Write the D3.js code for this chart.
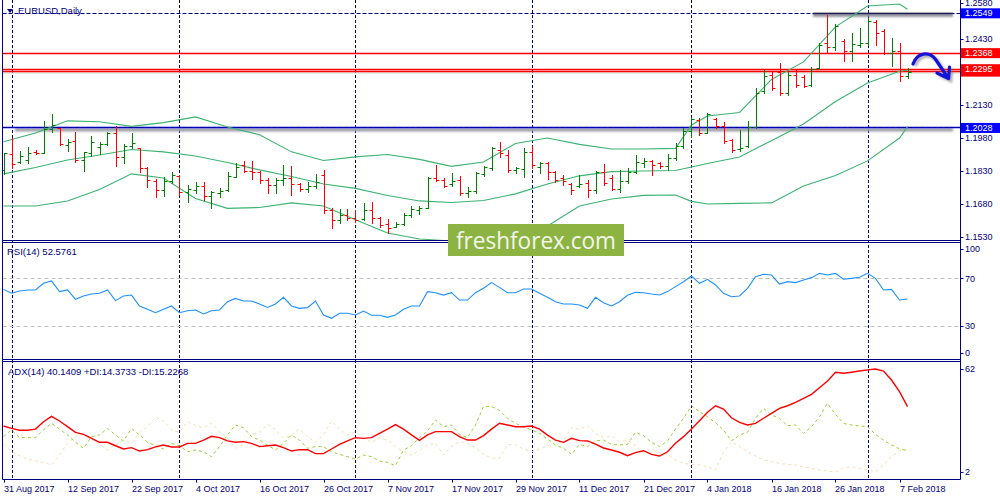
<!DOCTYPE html>
<html>
<head>
<meta charset="utf-8">
<script src="https://cdn.jsdelivr.net/npm/d3@7/dist/d3.min.js"></script>
<style>
body{margin:0;background:#fff;}
svg{display:block;font-family:"Liberation Sans",Arial,sans-serif;}
</style>
</head>
<body>
<div id="chart"></div>
<script>
// EURUSD daily bars, 31 Aug 2017 .. 8 Feb 2018 (index 0..113)
var open = [
1.1835,1.1908,1.1871,1.1880,1.1917,1.1912,1.2022,1.2024,1.1948,1.1966,
1.1880,1.1912,1.1939,1.1953,1.2003,1.1894,1.1944,1.1933,1.1844,1.1784,
1.1744,1.1784,1.1808,1.1735,1.1744,1.1762,1.1716,1.1730,1.1744,1.1803,
1.1858,1.1830,1.1826,1.1789,1.1767,1.1789,1.1798,1.1771,1.1749,1.1762,
1.1812,1.1653,1.1608,1.1630,1.1617,1.1612,1.1653,1.1617,1.1589,1.1576,
1.1589,1.1630,1.1653,1.1662,1.1798,1.1789,1.1771,1.1789,1.1730,1.1739,
1.1817,1.1844,1.1926,1.1903,1.1835,1.1839,1.1917,1.1848,1.1867,1.1826,
1.1798,1.1771,1.1762,1.1776,1.1744,1.1826,1.1798,1.1749,1.1784,1.1826,
1.1867,1.1876,1.1867,1.1853,1.1889,1.1944,1.2012,1.2062,1.2003,1.2067,
1.2035,1.1971,1.1930,1.1944,1.2030,1.2194,1.2267,1.2280,1.2185,1.2267,
1.2258,1.2221,1.2298,1.2412,1.2394,1.2421,1.2376,1.2403,1.2412,1.2508,
1.2467,1.2367,1.2376,1.2262];
var high = [
1.1914,1.1979,1.1921,1.1938,1.1926,1.2059,1.2090,1.2025,1.1974,1.2009,
1.1918,1.1989,1.1963,1.2007,1.2035,1.1951,1.2001,1.1936,1.1847,1.1792,
1.1801,1.1827,1.1812,1.1767,1.1781,1.1781,1.1741,1.1752,1.1827,1.1868,
1.1877,1.1876,1.1829,1.1797,1.1800,1.1856,1.1853,1.1774,1.1781,1.1817,
1.1835,1.1662,1.1657,1.1656,1.1653,1.1683,1.1691,1.1620,1.1614,1.1600,
1.1638,1.1672,1.1671,1.1802,1.1858,1.1798,1.1822,1.1808,1.1756,1.1827,
1.1853,1.1941,1.1963,1.1926,1.1850,1.1933,1.1944,1.1873,1.1873,1.1829,
1.1812,1.1774,1.1811,1.1789,1.1830,1.1862,1.1812,1.1835,1.1842,1.1903,
1.1888,1.1878,1.1873,1.1908,1.1956,1.2024,1.2077,1.2070,1.2093,1.2070,
1.2054,1.1974,1.2017,1.2058,1.2206,1.2289,1.2282,1.2320,1.2282,1.2289,
1.2267,1.2304,1.2413,1.2539,1.2498,1.2429,1.2456,1.2479,1.2524,1.2517,
1.2474,1.2433,1.2411,1.2297];
var low = [
1.1817,1.1845,1.1868,1.1865,1.1906,1.1911,1.2009,1.1948,1.1923,1.1870,
1.1832,1.1899,1.1908,1.1948,1.1853,1.1865,1.1933,1.1827,1.1756,1.1713,
1.1718,1.1777,1.1721,1.1690,1.1731,1.1698,1.1661,1.1713,1.1741,1.1802,
1.1827,1.1792,1.1777,1.1731,1.1729,1.1767,1.1721,1.1741,1.1736,1.1752,
1.1638,1.1570,1.1593,1.1608,1.1600,1.1608,1.1595,1.1577,1.1550,1.1574,
1.1585,1.1623,1.1633,1.1661,1.1783,1.1756,1.1762,1.1721,1.1711,1.1731,
1.1809,1.1835,1.1895,1.1824,1.1820,1.1804,1.1842,1.1822,1.1792,1.1779,
1.1767,1.1726,1.1756,1.1713,1.1731,1.1767,1.1744,1.1736,1.1777,1.1820,
1.1850,1.1812,1.1842,1.1835,1.1880,1.1933,1.1986,1.1994,1.2002,1.2024,
1.1956,1.1918,1.1923,1.1940,1.2027,1.2186,1.2198,1.2176,1.2176,1.2213,
1.2211,1.2217,1.2293,1.2365,1.2380,1.2332,1.2332,1.2395,1.2403,1.2403,
1.2362,1.2308,1.2241,1.2252];
var close = [
1.1911,1.1862,1.1898,1.1914,1.1912,1.2022,1.2039,1.1953,1.1963,1.1880,
1.1917,1.1962,1.1953,1.2003,1.1894,1.1944,1.1958,1.1844,1.1789,1.1744,
1.1784,1.1812,1.1735,1.1749,1.1762,1.1716,1.1735,1.1739,1.1808,1.1848,
1.1830,1.1826,1.1789,1.1767,1.1789,1.1798,1.1771,1.1749,1.1762,1.1780,
1.1653,1.1608,1.1630,1.1617,1.1608,1.1653,1.1617,1.1585,1.1571,1.1589,
1.1630,1.1658,1.1662,1.1798,1.1789,1.1762,1.1784,1.1730,1.1739,1.1821,
1.1848,1.1935,1.1912,1.1835,1.1844,1.1917,1.1858,1.1867,1.1826,1.1789,
1.1784,1.1744,1.1771,1.1744,1.1826,1.1776,1.1749,1.1784,1.1826,1.1871,
1.1876,1.1858,1.1853,1.1889,1.1944,1.2012,1.2067,1.2003,1.2090,1.2035,
1.1966,1.1926,1.1935,1.2030,1.2185,1.2262,1.2208,1.2185,1.2267,1.2221,
1.2217,1.2294,1.2405,1.2394,1.2489,1.2376,1.2408,1.2412,1.2512,1.2458,
1.2367,1.2376,1.2262,1.2280];

// Bollinger bands at these bar indexes
var bandIdx = [0,4,8,12,16,20,24,28,32,36,40,44,48,52,56,60,64,68,72,76,80,84,86,88,92,96,100,104,108,112,113];
var bandUp = [1.1963,1.2003,1.2058,1.2054,1.2033,1.2050,1.2076,1.2030,1.1995,1.1917,1.1878,1.1894,1.1905,1.1883,1.1851,1.1871,1.1955,1.1980,1.1951,1.1930,1.1930,1.1933,1.2039,1.2080,1.2096,1.2246,1.2326,1.2485,1.2580,1.2589,1.2565];
var bandMid = [1.1817,1.1846,1.1880,1.1903,1.1928,1.1917,1.1898,1.1869,1.1835,1.1805,1.1771,1.1751,1.1719,1.1694,1.1687,1.1696,1.1726,1.1771,1.1808,1.1827,1.1830,1.1832,1.1848,1.1864,1.1894,1.1968,1.2044,1.2146,1.2230,1.2283,1.2289];
var bandLow = [1.1671,1.1671,1.1694,1.1746,1.1817,1.1798,1.1705,1.1660,1.1664,1.1685,1.1671,1.1608,1.1548,1.1521,1.1512,1.1512,1.1535,1.1580,1.1671,1.1703,1.1719,1.1721,1.1692,1.1680,1.1683,1.1685,1.1762,1.1810,1.1876,1.1980,1.2032];

var rsi = [
60.7,57.4,59.3,60.2,60.2,65.8,67.8,58.8,60.2,52.3,
55.1,56.8,57.4,60.2,51.2,55.1,55.9,46.7,43.9,41.0,
43.9,46.7,41.0,42.7,43.3,39.9,42.7,43.3,50.3,53.1,
50.9,50.9,48.4,45.5,48.4,54.0,46.7,44.7,45.3,50.9,
39.1,36.3,40.5,40.5,39.1,42.4,38.8,38.8,37.1,39.1,
43.9,46.7,46.7,58.8,57.9,55.9,57.9,51.7,51.7,57.9,
61.6,66.4,62.4,57.9,57.9,61.0,61.0,57.4,54.0,50.3,
48.4,48.4,47.5,44.7,54.0,49.5,46.7,50.3,55.7,58.2,
57.9,56.8,55.9,58.8,63.0,67.2,72.0,65.8,69.2,64.4,
57.4,54.5,55.1,61.6,71.4,73.4,72.8,65.2,67.2,66.4,
68.6,70.6,74.2,72.8,74.2,69.2,70.0,70.9,74.2,70.0,
60.2,60.7,51.7,52.6];

var adx = [
28.8,27.4,26.3,26.3,27.0,31.3,34.4,31.7,28.4,25.1,
23.9,21.6,19.3,19.3,17.3,15.4,16.2,14.2,15.0,16.6,
17.7,16.6,16.6,18.7,18.7,20.6,22.8,22.0,20.1,19.3,
19.7,18.7,16.8,17.3,17.7,16.2,14.2,15.0,15.0,12.7,
12.7,15.4,18.1,20.1,22.0,21.6,22.0,24.5,27.0,29.6,
27.0,23.6,20.4,23.6,25.5,25.5,25.5,22.6,20.6,20.6,
23.2,27.0,30.4,29.4,28.4,28.4,28.8,27.0,23.5,20.6,
19.3,21.6,20.3,20.1,18.3,16.0,14.8,13.5,11.5,13.3,
14.4,12.3,11.3,13.8,18.7,22.6,27.0,31.9,36.8,40.6,
38.7,33.6,30.9,29.4,30.3,33.3,36.2,39.1,40.6,42.6,
44.9,47.2,51.1,55.0,60.1,59.5,60.1,60.8,61.5,62.0,
60.8,55.6,48.8,40.1];
var plusDI = [
22.6,26.5,22.0,22.0,22.0,26.5,30.4,27.0,23.6,19.3,
15.8,22.6,23.6,27.4,23.6,20.1,27.4,23.6,19.3,17.3,
15.4,18.7,17.3,13.8,14.8,13.8,10.9,16.8,23.6,29.4,
27.8,22.6,20.6,17.7,14.8,18.7,23.6,20.6,15.8,16.8,
16.8,13.8,12.3,10.9,9.6,11.9,10.9,8.4,7.6,5.7,
14.8,17.3,22.0,25.9,32.3,28.4,29.4,23.9,22.0,29.4,
40.1,40.1,37.9,33.3,30.3,28.4,26.5,24.5,21.2,17.7,
15.8,12.3,18.1,16.8,20.1,20.6,18.1,17.7,18.1,25.1,
23.2,19.3,16.8,20.1,27.0,33.3,40.6,37.1,34.2,30.7,
26.5,20.1,23.6,25.1,33.3,39.1,35.2,33.3,29.0,29.4,
24.5,28.4,34.2,42.0,35.6,30.3,29.4,28.8,28.4,23.9,
20.6,17.7,15.5,14.4];
var minusDI = [
18.1,13.8,11.5,9.6,8.4,7.6,6.1,11.9,18.7,22.6,
23.9,21.6,18.1,14.8,17.7,20.6,18.7,25.1,28.4,34.0,
31.7,26.5,25.1,31.3,29.0,27.8,30.4,25.5,21.6,15.8,
18.1,23.6,25.1,29.8,26.5,21.6,23.6,27.0,22.6,19.3,
23.6,31.7,27.0,23.6,25.5,22.0,19.3,21.6,20.6,16.8,
13.8,11.9,14.8,17.7,18.7,11.9,16.8,19.7,18.7,16.2,
12.3,10.0,10.0,18.1,17.7,15.4,13.8,15.4,17.3,18.1,
20.6,27.8,26.9,29.0,24.5,22.0,23.0,19.7,20.6,17.3,
12.9,15.4,13.4,12.3,9.0,7.0,6.4,6.1,5.1,3.2,
13.8,19.7,16.8,13.8,11.3,9.0,8.0,7.0,6.4,6.1,
5.1,4.1,3.2,2.5,2.0,4.5,5.1,4.1,3.2,2.2,
6.1,10.9,14.4,15.2];

var tickIdx = [0,8,16,24,32,40,48,56,64,72,80,88,96,104,112];
var tickLabels = ["31 Aug 2017","12 Sep 2017","22 Sep 2017","4 Oct 2017","16 Oct 2017","26 Oct 2017",
  "7 Nov 2017","17 Nov 2017","29 Nov 2017","11 Dec 2017","21 Dec 2017","4 Jan 2018",
  "16 Jan 2018","26 Jan 2018","7 Feb 2018"];
var monthIdx = [1,22,44,66,86,108];          // first bar of each month
var priceTicks = [1.2580,1.2430,1.2130,1.1980,1.1830,1.1680,1.1530];
var rsiTicks = [100,70,30,0];
var rsiLevels = [70,30];
var adxTicks = [62,2];
var blueLevels = [1.2549,1.2028];
var redLevels = [1.2368,1.2284,1.2295];

var navy = "#000080";
var W = 1000, H = 500;
var L = 2.5, R = 960.5;
var mainP = {top:0, bottom:240.5},
    rsiP = {top:242.5, bottom:359.5},
    adxP = {top:361.5, bottom:479.5};

var x = d3.scaleLinear().domain([0,113]).range([3.5,907.5]);
var y = d3.scaleLinear().domain([1.1530,1.2580]).range([237,6]);
var yR = d3.scaleLinear().domain([0,100]).range([361.3,242.8]);
var yA = d3.scaleLinear().domain([2,62]).range([472,369]);

function px(v){ return Math.round(v) + 0.5; }

var svg = d3.select("#chart").append("svg").attr("width",W).attr("height",H);
var defs = svg.append("defs");
[["clipMain",mainP],["clipRsi",rsiP],["clipAdx",adxP]].forEach(function(c){
  defs.append("clipPath").attr("id",c[0]).append("rect")
    .attr("x",L).attr("y",c[1].top).attr("width",R-L).attr("height",c[1].bottom-c[1].top);
});
defs.append("filter").attr("id","blur").attr("x","-10%").attr("y","-200%").attr("width","120%").attr("height","500%")
  .append("feGaussianBlur").attr("stdDeviation",1.3);

svg.append("rect").attr("width",W).attr("height",H).attr("fill","#fff");

// vertical month grid through all panels
svg.append("g").selectAll("line").data(monthIdx).enter().append("line")
  .attr("x1",function(d){ return px(x(d)); }).attr("x2",function(d){ return px(x(d)); })
  .attr("y1",0).attr("y2",adxP.bottom)
  .attr("stroke",navy).attr("stroke-dasharray","3,2");

var gm = svg.append("g").attr("clip-path","url(#clipMain)");

// horizontal levels with their shadows
gm.append("rect").attr("x",813).attr("width",140).attr("y",y(1.2549)+0.5).attr("height",3.5)
  .attr("fill","#8c8c9c").attr("filter","url(#blur)");
gm.append("rect").attr("x",15).attr("width",938).attr("y",y(1.2028)+0.5).attr("height",3.5)
  .attr("fill","#9a9aa6").attr("filter","url(#blur)");
gm.append("line").attr("x1",L).attr("x2",R).attr("y1",px(y(1.2028))).attr("y2",px(y(1.2028)))
  .attr("stroke","#0000ff").attr("stroke-width",1.6);
gm.selectAll("line.grid").data(blueLevels).enter().append("line").attr("class","grid")
  .attr("x1",L).attr("x2",R).attr("y1",function(d){ return px(y(d)); }).attr("y2",function(d){ return px(y(d)); })
  .attr("stroke",navy).attr("stroke-dasharray","4,2");
gm.append("line").attr("x1",813).attr("x2",953).attr("y1",px(y(1.2549))).attr("y2",px(y(1.2549)))
  .attr("stroke","#1c1c50").attr("stroke-width",1.4);
gm.append("line").attr("x1",L).attr("x2",R).attr("y1",px(y(1.2284))+1.5).attr("y2",px(y(1.2284))+1.5)
  .attr("stroke","#d4d4d4").attr("stroke-width",1.2);
gm.selectAll("line.red").data(redLevels).enter().append("line").attr("class","red")
  .attr("x1",L).attr("x2",R).attr("y1",function(d){ return px(y(d)); }).attr("y2",function(d){ return px(y(d)); })
  .attr("stroke","#ff0000").attr("stroke-width",1.3);

// bollinger bands
function bandPath(arr){
  return d3.line().x(function(d,k){ return x(bandIdx[k]); }).y(function(d){ return y(d); })(arr);
}
gm.selectAll("path.band").data([bandUp,bandMid,bandLow]).enter().append("path").attr("class","band")
  .attr("d",bandPath).attr("fill","none").attr("stroke","#3cb371").attr("stroke-width",1.1);

// OHLC bars
var bars = d3.range(close.length).map(function(i){
  return {i:i, o:open[i], h:high[i], l:low[i], c:close[i]};
});
var bar = gm.selectAll("g.bar").data(bars).enter().append("g").attr("class","bar")
  .attr("stroke",function(d){ return d.c >= d.o ? "#008000" : "#ff0000"; });
bar.append("line")
  .attr("x1",function(d){ return px(x(d.i)); }).attr("x2",function(d){ return px(x(d.i)); })
  .attr("y1",function(d){ return Math.round(y(d.h)); }).attr("y2",function(d){ return Math.round(y(d.l)) + 1; });
bar.append("line")
  .attr("x1",function(d){ return px(x(d.i)) - 3; }).attr("x2",function(d){ return px(x(d.i)); })
  .attr("y1",function(d){ return px(y(d.o)); }).attr("y2",function(d){ return px(y(d.o)); });
bar.append("line")
  .attr("x1",function(d){ return px(x(d.i)); }).attr("x2",function(d){ return px(x(d.i)) + 3; })
  .attr("y1",function(d){ return px(y(d.c)); }).attr("y2",function(d){ return px(y(d.c)); });

// hand drawn arrow
var arrow = "M913,64 C917,53 929,50 936,60 L948,78 M937,73 L948.5,78.5 L949.5,67";
svg.append("path").attr("d",arrow).attr("transform","translate(2,2)").attr("fill","none")
  .attr("stroke","#777").attr("stroke-width",3.5).attr("opacity",0.6).attr("filter","url(#blur)");
svg.append("path").attr("d",arrow).attr("fill","none").attr("stroke","#1414d8")
  .attr("stroke-width",3.2).attr("stroke-linecap","round").attr("stroke-linejoin","round");

// RSI panel
var gr = svg.append("g").attr("clip-path","url(#clipRsi)");
gr.selectAll("line.lvl").data(rsiLevels).enter().append("line").attr("class","lvl")
  .attr("x1",L).attr("x2",R).attr("y1",function(d){ return px(yR(d)); }).attr("y2",function(d){ return px(yR(d)); })
  .attr("stroke","#c0c0c0").attr("stroke-dasharray","4,3");
gr.append("path").datum(rsi)
  .attr("d",d3.line().x(function(d,i){ return x(i); }).y(function(d){ return yR(d); }))
  .attr("fill","none").attr("stroke","#1e90ff").attr("stroke-width",1.1);

// ADX panel
var ga = svg.append("g").attr("clip-path","url(#clipAdx)");
var adxLine = d3.line().x(function(d,i){ return x(i); }).y(function(d){ return yA(d); });
ga.append("path").datum(minusDI).attr("d",adxLine).attr("fill","none")
  .attr("stroke","#f5deb3").attr("stroke-dasharray","3,3");
ga.append("path").datum(plusDI).attr("d",adxLine).attr("fill","none")
  .attr("stroke","#9acd32").attr("stroke-dasharray","3,3");
ga.append("path").datum(adx).attr("d",adxLine).attr("fill","none")
  .attr("stroke","#ff0000").attr("stroke-width",1.4);

// frames
var frame = svg.append("g").attr("stroke",navy).attr("fill","none");
[mainP,rsiP,adxP].forEach(function(p){
  frame.append("line").attr("x1",L).attr("x2",R).attr("y1",p.bottom).attr("y2",p.bottom);
  if (p.top > 0) frame.append("line").attr("x1",L).attr("x2",R).attr("y1",p.top).attr("y2",p.top);
});
frame.append("line").attr("x1",L).attr("x2",L).attr("y1",0).attr("y2",adxP.bottom);
frame.append("line").attr("x1",R).attr("x2",R).attr("y1",0).attr("y2",adxP.bottom);

// right axes
var ax = svg.append("g").attr("font-size","9px").attr("fill",navy);
function rightTicks(vals,scale,top,bottom,fmt){
  vals.forEach(function(v){
    var yy = Math.max(top, Math.min(bottom, scale(v)));
    ax.append("line").attr("x1",R).attr("x2",R + 3).attr("y1",px(yy)).attr("y2",px(yy)).attr("stroke",navy);
    ax.append("text").attr("x",965).attr("y",yy).attr("dy","0.35em").text(fmt(v));
  });
}
// top price label sits high, just above the 1.2549 tag, as in the terminal
rightTicks(priceTicks,function(v){ return v === priceTicks[0] ? 3 : y(v); },0,240,function(v){ return v.toFixed(4); });
rightTicks(rsiTicks,yR,rsiP.top + 6.5,rsiP.bottom - 6.5,String);
rightTicks(adxTicks,yA,adxP.top,adxP.bottom,String);

// level labels on the price axis (the lower red tag sits under the 1.2295 one)
var tags = [[1.2284,"#ff0000",false],[1.2295,"#ff0000",true],[1.2368,"#ff0000",true],
            [1.2549,"#0000ff",true],[1.2028,"#0000ff",true]];
tags.forEach(function(t){
  var yy = y(t[0]);
  ax.append("rect").attr("x",961).attr("y",yy - 4.5).attr("width",39).attr("height",10).attr("fill",t[1]);
  if (t[2]) ax.append("text").attr("x",965).attr("y",yy + 0.5).attr("dy","0.35em").attr("fill","#fff").text(t[0].toFixed(4));
});

// date axis
tickIdx.forEach(function(d,k){
  var xx = px(x(d));
  ax.append("line").attr("x1",xx).attr("x2",xx).attr("y1",adxP.bottom).attr("y2",adxP.bottom + 3).attr("stroke",navy);
  ax.append("text").attr("x",xx - 0.5).attr("y",492).text(tickLabels[k]);
});

// titles
svg.append("path").attr("d","M7,9 L13,9 L10,13 Z").attr("fill",navy);
svg.append("text").attr("x",18).attr("y",14).attr("font-size","9.5px").attr("fill",navy).text("EURUSD,Daily");
svg.append("text").attr("x",7).attr("y",255).attr("font-size","9.5px").attr("fill",navy).text("RSI(14) 52.5761");
svg.append("text").attr("x",8).attr("y",375).attr("font-size","9.5px").attr("fill",navy)
  .text("ADX(14) 40.1409 +DI:14.3733 -DI:15.2268");

// watermark
svg.append("rect").attr("x",448).attr("y",224).attr("width",176).attr("height",32).attr("fill","#8db443");
svg.append("text").attr("x",536).attr("y",249).attr("text-anchor","middle")
  .attr("font-family","'Open Sans',sans-serif").attr("font-size","23px").attr("fill","#f3f6ea")
  .attr("textLength",160).attr("lengthAdjust","spacingAndGlyphs").text("freshforex.com");
</script>
</body>
</html>
